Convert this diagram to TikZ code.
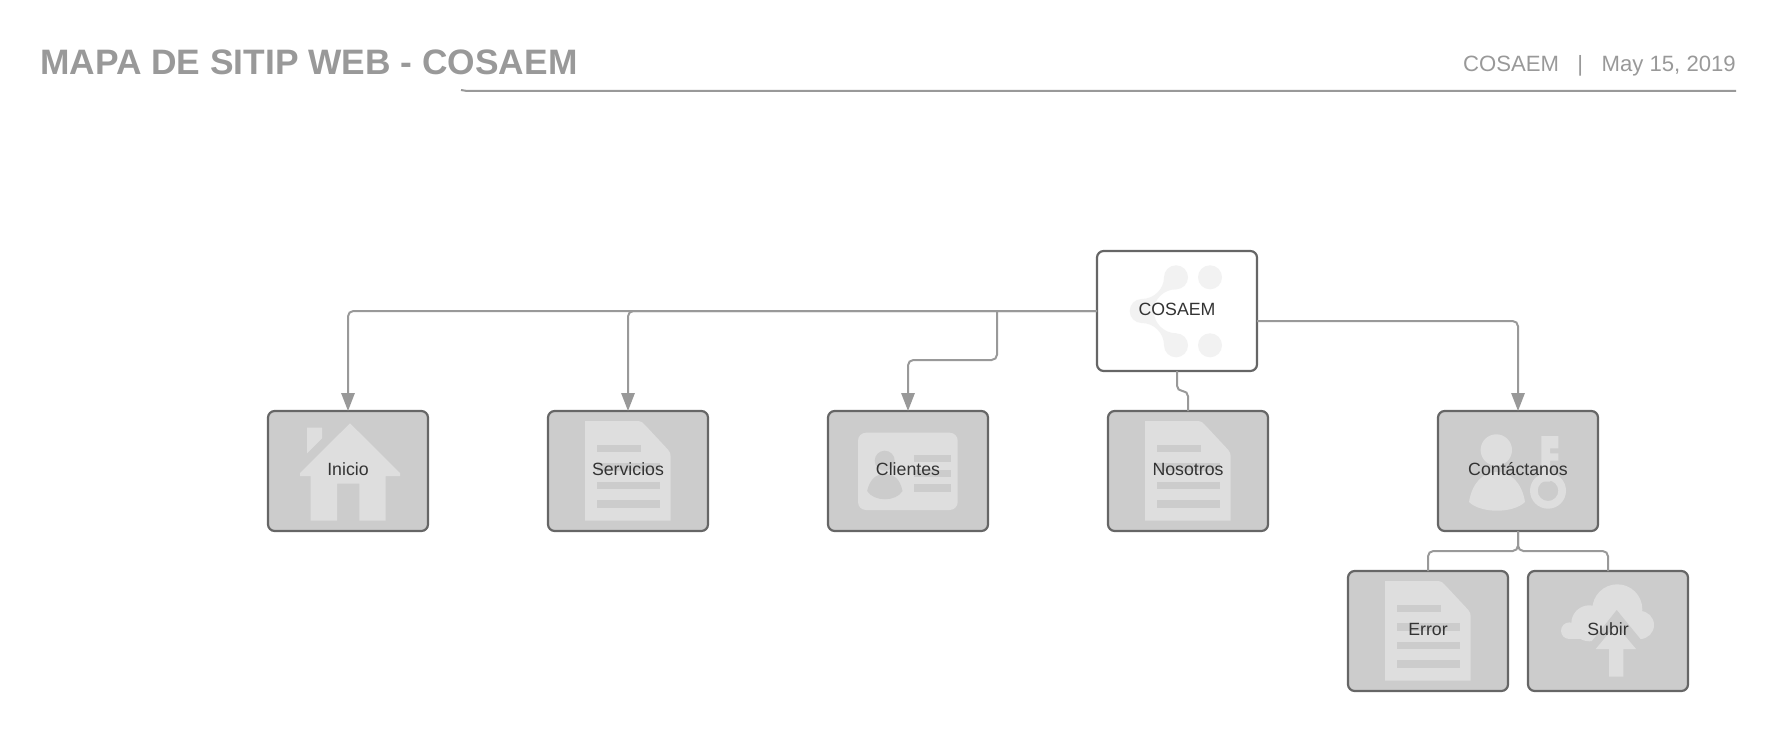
\documentclass[tikz,border=0pt]{standalone}
\usepackage{fontspec}
\setmainfont{Liberation Sans}
\usetikzlibrary{arrows.meta}
\definecolor{linegray}{HTML}{999999}
\definecolor{edgegray}{HTML}{666666}
\definecolor{boxgray}{HTML}{CCCCCC}
\definecolor{icongray}{HTML}{DEDEDE}
\definecolor{rootgray}{HTML}{F2F2F2}
\definecolor{textgray}{HTML}{333333}
\tikzset{
  docpic/.pic={
    \fill[icongray] (-43,-50) -- (10.3,-50) .. controls (13,-50) and (15,-48.5) .. (17,-46) -- (40.3,-21) .. controls (42,-19) and (42.7,-17) .. (42.7,-14) -- (42.7,49.7) -- (-43,49.7) -- cycle;
    \fill[boxgray] (-31.3,-26.3) rectangle (13,-19);
    \foreach \barY in {-7.7,10.7,29.3}
      \fill[boxgray] (-31.3,\barY) rectangle (31.7,\barY+7.4);
  },
  housepic/.pic={
    \fill[icongray] (2,-47.7) -- (52,2) -- (52,5) -- (37.7,5) -- (37.7,49.7) -- (11.3,49.7) -- (11.3,12.7) -- (-11,12.7) -- (-11,49.7) -- (-37.3,49.7) -- (-37.3,5) -- (-48,5) -- (-48,2) -- cycle;
    \fill[icongray] (-41,-43.3) -- (-26,-43.3) -- (-26,-32.7) -- (-41,-17.7) -- cycle;
  },
  cardpic/.pic={
    \fill[icongray,rounded corners=6pt] (-50,-38.3) rectangle (49.7,39);
    \fill[boxgray] (-23.3,-10.3) circle (10);
    \fill[boxgray] (-40.9,20) .. controls (-38,8) and (-32,3) .. (-23.2,3) .. controls (-14,3) and (-8,8) .. (-5.5,20) .. controls (-12,31) and (-34,31) .. (-40.9,20) -- cycle;
    \foreach \barY in {-16.3,-1.3,13.3}
      \fill[boxgray] (5.7,\barY) rectangle (43,\barY+7.4);
  },
  contactpic/.pic={
    \fill[icongray] (-21.7,-21) circle (15.7);
    \fill[icongray] (-49,31) .. controls (-46,12) and (-35,1) .. (-21,1) .. controls (-7,1) and (4,12) .. (7,31) .. controls (-5,42.6) and (-37,42.6) .. (-49,31) -- cycle;
    \fill[icongray,even odd rule] (30,19.7) circle (18) (30,19.7) circle (10.3);
    \fill[icongray] (23.3,-35) -- (40.3,-35) -- (40.3,-22.7) -- (32,-22.7) -- (32,-17.7) -- (40.3,-17.7) -- (40.3,-10.3) -- (32,-10.3) -- (32,10.7) -- (23.3,10.7) -- cycle;
  },
  cloudpic/.pic={
    \fill[icongray] (9.3,-21.7) circle (25);
    \fill[icongray] (-18.7,-7.7) circle (18);
    \fill[icongray] (-38.7,-0.3) circle (8.3);
    \fill[icongray] (32,-6) circle (14);
    \fill[icongray] (-38.7,-8) rectangle (32,8);
    \fill[boxgray] (8.7,-21) -- (34,10) -- (-16,10) -- cycle;
    \fill[icongray] (7.7,-6) -- (28,18) -- (15.3,18) -- (15.3,45.7) -- (1,45.7) -- (1,18) -- (-12.3,18) -- cycle;
  },
  rootpic/.pic={
    \fill[rootgray] (33,-33.7) circle (12);
    \fill[rootgray] (33,34.3) circle (12);
    \fill[rootgray] (-1,-33.7) circle (12);
    \fill[rootgray] (-1,34.3) circle (12);
    \fill[rootgray] (-35.3,0) circle (12);
    \fill[rootgray] (-35.3,-12) .. controls (-23,-12) and (-13,-22) .. (-13,-33.7) -- (-1,-21.7) .. controls (-13,-21.7) and (-23.3,-12) .. (-23.3,0) .. controls (-23.3,12) and (-13,22.3) .. (-1,22.3) -- (-13,34.3) .. controls (-13,22) and (-23,12) .. (-35.3,12) -- cycle;
  },
  boxicon/.style={path picture={\pic[sharp corners] at (path picture bounding box.center) {#1};}},
  mapbox/.style={draw=edgegray,line width=1.65pt,fill=boxgray,rounded corners=5pt,
    minimum width=120pt,minimum height=90pt,inner sep=0pt,outer sep=0pt,
    text=textgray,font=\fontsize{13.3pt}{15pt}\selectfont,text height=8pt,text depth=2pt},
  link/.style={draw=linegray,line width=1.5pt,rounded corners=4pt},
  tip/.style={-{Triangle[length=13.5pt,width=10pt,fill=linegray]}}
}
\begin{document}
\begin{tikzpicture}[x=0.75pt,y=-0.75pt]
  \useasboundingbox (0,0) rectangle (1776,731);

  % encabezado
  \node[anchor=base west,inner sep=0pt,text=linegray,font=\fontsize{26.5pt}{30pt}\selectfont\bfseries] (title) at (40,75) {MAPA DE SITIP WEB - COSAEM};
  \node[anchor=base east,inner sep=0pt,text=linegray,font=\fontsize{16.6pt}{20pt}\selectfont] (meta) at (1736,71.7) {COSAEM\ \ \ |\ \ \ May 15, 2019};
  \coordinate (ruleA) at (461,90);
  \coordinate (ruleB) at (467,91);
  \coordinate (ruleC) at (1736,91);
  \draw[linegray,line width=1.5pt] (ruleA) -- (ruleB) -- (ruleC);

  % cajas
  \node[mapbox,fill=white,boxicon=rootpic] (cosaem) at (1177,311) {COSAEM};
  \node[mapbox,boxicon=housepic] (inicio) at (348,471) {Inicio};
  \node[mapbox,boxicon=docpic] (servicios) at (628,471) {Servicios};
  \node[mapbox,boxicon=cardpic] (clientes) at (908,471) {Clientes};
  \node[mapbox,boxicon=docpic] (nosotros) at (1188,471) {Nosotros};
  \node[mapbox,boxicon=contactpic] (contacto) at (1518,471) {Contáctanos};
  \node[mapbox,boxicon=docpic] (error) at (1428,631) {Error};
  \node[mapbox,boxicon=cloudpic] (subir) at (1608,631) {Subir};

  % conectores
  \coordinate (bendC) at (997,360);
  \coordinate (bendN) at (1182,391);
  \coordinate (bendK) at (1518,551);
  \draw[link,tip] (cosaem.west) -| (inicio.north);
  \draw[link,tip] (cosaem.west) -| (servicios.north);
  \draw[link,tip] (cosaem.west -| bendC) -- (bendC) -- (bendC -| clientes.north) -- (clientes.north);
  \draw[link,tip] ([yshift=-7.5pt]cosaem.east) -| (contacto.north);
  \draw[link] (cosaem.south) -- (cosaem.south |- bendN) -- (nosotros.north |- bendN) -- (nosotros.north);
  \draw[link] (contacto.south) -- (bendK) -- (bendK -| error.north) -- (error.north);
  \draw[link] (contacto.south) -- (bendK) -- (bendK -| subir.north) -- (subir.north);
\end{tikzpicture}
\end{document}
